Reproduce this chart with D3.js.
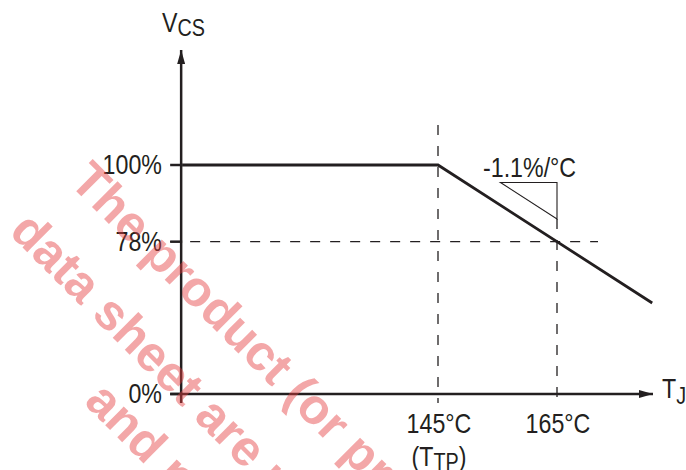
<!DOCTYPE html>
<html>
<head>
<meta charset="utf-8">
<script src="https://cdn.jsdelivr.net/npm/d3@7"></script>
<style>
  html, body { margin: 0; padding: 0; background: #fff; }
  svg { display: block; }
  .lbl { font-family: "Liberation Sans", Arial, sans-serif; fill: #231f20; }
</style>
</head>
<body>
<svg id="chart" width="686" height="470"></svg>
<script>
// ---- data ----
const xTickTemps = [145, 165];
const xTickLabels = ["145°C", "165°C"];
const yTickValues = [0, 78, 100];
const yTickLabels = ["0%", "78%", "100%"];
const curveTemps = [102, 145, 181];
const curveValues = [100, 100, 60.4];
const slopeLabel = "-1.1%/°C";
const slopeTemps = [155.5, 165];
const slopeValues = [95, 84.5];
const refValue = 78;          // horizontal dashed guide
const refTemps = [145, 165];  // vertical dashed guides
const watermarkLines = ["The product (or products)", "data sheet are not", "and no"];

// ---- scales ----
const svg = d3.select("#chart");
const x = d3.scaleLinear().domain([145, 165]).range([438, 557]);
const y = d3.scaleLinear().domain([0, 60, 100]).range([394, 304.4, 165]);
const xMin = 102;
const ink = "#231f20";
const SX = 0.86; // condensed look
const FS = 27;

function label(px, py, anchor, size) {
  return svg.append("text").attr("class", "lbl")
    .attr("transform", `translate(${px},${py}) scale(${SX},1)`)
    .attr("text-anchor", anchor).attr("font-size", size);
}

// ---- dashed guides ----
svg.append("line")
  .attr("x1", x(xMin) - 12).attr("x2", 598)
  .attr("y1", y(refValue)).attr("y2", y(refValue))
  .attr("stroke", ink).attr("stroke-width", 1.3).attr("stroke-dasharray", "10,10");
svg.append("line")
  .attr("x1", x(refTemps[0])).attr("x2", x(refTemps[0]))
  .attr("y1", 125).attr("y2", y(0) + 9)
  .attr("stroke", ink).attr("stroke-width", 1.3).attr("stroke-dasharray", "10,11");
svg.append("line")
  .attr("x1", x(refTemps[1])).attr("x2", x(refTemps[1]))
  .attr("y1", y(slopeValues[1])).attr("y2", y(0) + 9)
  .attr("stroke", ink).attr("stroke-width", 1.3).attr("stroke-dasharray", "10,11");

// ---- slope triangle ----
const tri = [[slopeTemps[0], slopeValues[0]], [slopeTemps[1], slopeValues[0]], [slopeTemps[1], slopeValues[1]]];
svg.append("path")
  .attr("d", d3.line().x(d => x(d[0])).y(d => y(d[1]))(tri) + "Z")
  .attr("fill", "none").attr("stroke", ink).attr("stroke-width", 1.1);
label(483, 177, "start", FS).text(slopeLabel);

// ---- axes ----
svg.append("defs").html(
  '<marker id="arr" viewBox="0 0 14 8" refX="14" refY="4" markerWidth="14" markerHeight="8" markerUnits="userSpaceOnUse" orient="auto">' +
  '<path d="M0,0 L14,4 L0,8 Z" fill="' + ink + '"/></marker>');
svg.append("line")
  .attr("x1", x(xMin) - 1).attr("x2", x(xMin) - 1)
  .attr("y1", y(0) + 9).attr("y2", 50)
  .attr("stroke", ink).attr("stroke-width", 2.5).attr("marker-end", "url(#arr)");
svg.append("line")
  .attr("x1", x(xMin) - 12).attr("x2", 653)
  .attr("y1", y(0)).attr("y2", y(0))
  .attr("stroke", ink).attr("stroke-width", 2.5).attr("marker-end", "url(#arr)");

// y ticks
yTickValues.forEach((v, i) => {
  svg.append("line")
    .attr("x1", x(xMin) - 12).attr("x2", x(xMin))
    .attr("y1", y(v)).attr("y2", y(v))
    .attr("stroke", ink).attr("stroke-width", 2.5);
  label(162, y(v) + 9, "end", FS).text(yTickLabels[i]);
});

// x tick labels
xTickTemps.forEach((t, i) => {
  label(x(t) + 1, 433, "middle", FS).text(xTickLabels[i]);
});
const ttp = label(x(xTickTemps[0]) + 1, 466, "middle", FS);
ttp.append("tspan").text("(T");
ttp.append("tspan").attr("font-size", 23).attr("dy", 4).text("TP");
ttp.append("tspan").attr("dy", -4).text(")");

// axis titles
const vt = label(162, 32, "start", FS);
vt.append("tspan").text("V");
vt.append("tspan").attr("font-size", 23).attr("dy", 4).text("CS");
const tj = label(662, 398, "start", FS);
tj.append("tspan").text("T");
tj.append("tspan").attr("font-size", 23).attr("dy", 6).text("J");

// ---- curve ----
svg.append("path")
  .datum(curveTemps.map((t, i) => [t, curveValues[i]]))
  .attr("d", d3.line().x(d => x(d[0])).y(d => y(d[1])))
  .attr("fill", "none").attr("stroke", ink).attr("stroke-width", 2.8);

// ---- watermark ----
const wmStarts = [[68, 183], [8, 233], [83, 403]];
watermarkLines.forEach((s, i) => {
  svg.append("text")
    .attr("transform", `translate(${wmStarts[i][0]},${wmStarts[i][1]}) rotate(45)`)
    .attr("font-family", "Liberation Sans, Arial, sans-serif")
    .attr("font-weight", 700).attr("font-size", 50)
    .attr("fill", "rgb(228,60,62)").attr("fill-opacity", 0.45)
    .text(s);
});
</script>
</body>
</html>
